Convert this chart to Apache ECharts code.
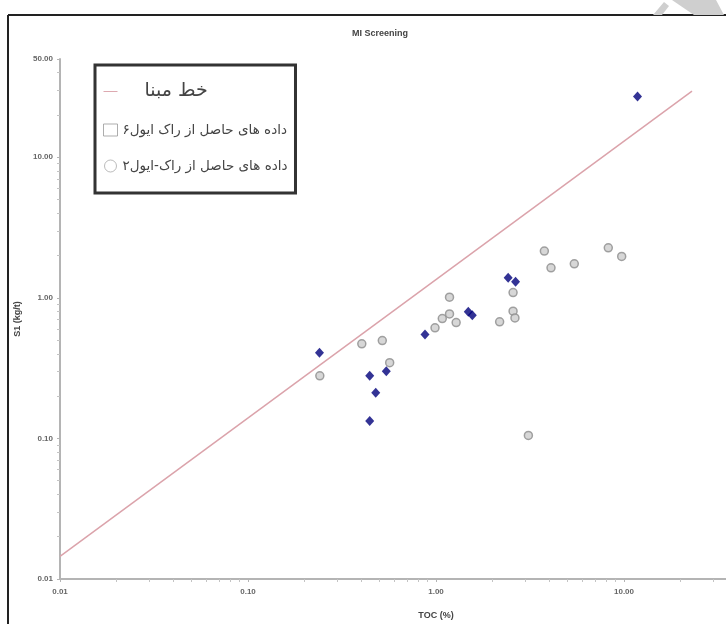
<!DOCTYPE html>
<html>
<head>
<meta charset="utf-8">
<script src="https://cdn.jsdelivr.net/npm/echarts@6/dist/echarts.min.js"></script>
<style>
  html, body { margin: 0; padding: 0; background: #fff; }
  #main { width: 726px; height: 624px; }
</style>
</head>
<body>
<div id="main"></div>
<script>
// series names (legend labels)
var baseName = 'خط مبنا'
var re6Name = 'داده های حاصل از راک ایول۶'
var re2Name = 'داده های حاصل از راک-ایول۲'

// reference line end points [TOC, S1]
var baseLine = [[0.01, 0.0145], [23, 29.5]]

// Rock-Eval 6 samples (blue)
var re6Toc = [0.24, 0.444, 0.478, 0.444, 0.544, 0.874, 1.485, 1.56, 2.42, 2.65, 11.8]
var re6S1 = [0.406, 0.279, 0.211, 0.133, 0.301, 0.548, 0.795, 0.753, 1.39, 1.30, 27.1]

// Rock-Eval 2 samples (grey)
var re2Toc = [0.241, 0.403, 0.518, 0.567, 0.988, 1.08, 1.18, 1.18, 1.28, 2.18, 2.57, 2.57, 2.63, 3.77, 4.09, 5.44, 8.25, 9.72, 3.10]
var re2S1 = [0.279, 0.471, 0.497, 0.346, 0.612, 0.712, 1.01, 0.769, 0.667, 0.675, 1.09, 0.804, 0.72, 2.15, 1.635, 1.746, 2.27, 1.97, 0.105]

var pairs = function (xs, ys) {
    return xs.map(function (x, i) { return [x, ys[i]] })
}

var fmt = function (v) {
    return Number(v).toFixed(2)
}

var chart = echarts.init(document.getElementById('main'))

var axisCommon = {
    type: 'log',
    logBase: 10,
    axisLine: { show: true, lineStyle: { color: '#b4b4b4', width: 2 } },
    axisTick: { show: true, length: 3, lineStyle: { color: '#b4b4b4' } },
    minorTick: { show: true, splitNumber: 9, length: 3, lineStyle: { color: '#c4c4c4' } },
    splitLine: { show: false },
    axisLabel: { color: '#666', fontSize: 8, fontWeight: 'bold', fontFamily: 'Liberation Sans', formatter: fmt },
    nameTextStyle: { color: '#444', fontSize: 9, fontWeight: 'bold', fontFamily: 'Liberation Sans' }
}

var option = {
    backgroundColor: '#fff',
    animation: false,
    title: {
        text: 'MI Screening',
        left: 375,
        top: 24,
        textAlign: 'center',
        textStyle: { fontSize: 9, fontWeight: 'bold', color: '#444', fontFamily: 'Liberation Sans' }
    },
    // plot runs past the right edge of the picture (cropped original)
    grid: { left: 60, width: 752, top: 59, bottom: 45, containLabel: false, outerBoundsMode: 'none' },
    xAxis: Object.assign({}, axisCommon, {
        min: 0.01,
        max: 100,
        name: 'TOC (%)',
        nameLocation: 'middle',
        nameGap: 32,
        axisLabel: Object.assign({}, axisCommon.axisLabel, { margin: 9 })
    }),
    yAxis: Object.assign({}, axisCommon, {
        min: 0.01,
        max: 50,
        name: 'S1 (kg/t)',
        nameLocation: 'middle',
        nameGap: 28,
        axisLabel: Object.assign({}, axisCommon.axisLabel, { margin: 7 })
    }),
    legend: {
        left: 95,
        top: 65,
        orient: 'vertical',
        backgroundColor: '#fff',
        borderColor: '#333',
        borderWidth: 3,
        padding: [17, 8, 20, 8],
        itemGap: 22,
        itemWidth: 14,
        itemHeight: 12,
        textStyle: { fontFamily: 'DejaVu Sans', fontSize: 13.5, color: '#444' },
        data: [
            { name: baseName, icon: 'path://M0,0 H30 V2 H0 Z', textStyle: { fontSize: 19, padding: [0, 0, 0, 22] } },
            { name: re6Name, icon: 'rect', itemStyle: { color: '#fff', borderColor: '#999', borderWidth: 1 } },
            { name: re2Name, icon: 'circle', itemStyle: { color: '#fff', borderColor: '#aaa', borderWidth: 1 } }
        ]
    },
    series: [
        {
            name: baseName,
            type: 'line',
            symbol: 'none',
            silent: true,
            lineStyle: { color: '#dba3ab', width: 1.5 },
            itemStyle: { color: '#dba3ab' },
            data: baseLine
        },
        {
            name: re2Name,
            type: 'scatter',
            symbol: 'circle',
            symbolSize: 8,
            itemStyle: { color: '#cdcdcd', borderColor: '#8c8c8c', borderWidth: 1.5 },
            data: pairs(re2Toc, re2S1)
        },
        {
            name: re6Name,
            type: 'scatter',
            symbol: 'diamond',
            symbolSize: [9, 10],
            itemStyle: { color: '#00007a' },
            data: pairs(re6Toc, re6S1)
        }
    ],
    graphic: [
        { type: 'line', shape: { x1: 8, y1: 15, x2: 726, y2: 15 }, style: { stroke: '#222', lineWidth: 2 } },
        { type: 'line', shape: { x1: 8, y1: 15, x2: 8, y2: 624 }, style: { stroke: '#222', lineWidth: 2 } },
        { type: 'polygon', shape: { points: [[653, 15], [664, 2], [669, 6], [662, 15]] }, style: { fill: '#cfcfcf' } },
        { type: 'polygon', shape: { points: [[672, 0], [716, 0], [724, 15], [694, 15]] }, style: { fill: '#cfcfcf' } }
    ]
}

chart.setOption(option)
</script>
</body>
</html>
